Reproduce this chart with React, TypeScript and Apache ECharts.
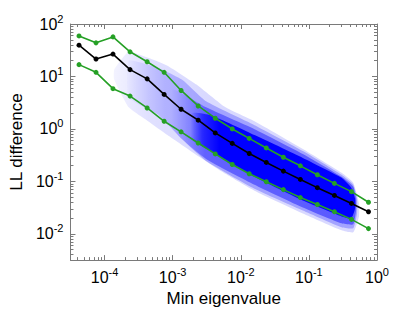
import React, { useEffect, useRef } from "react";
import * as echarts from "echarts";

// ---- data ----
const binCenters = [4.22e-5, 7.5e-5, 1.33e-4, 2.37e-4, 4.22e-4, 7.5e-4, 1.33e-3, 2.37e-3, 4.22e-3, 7.5e-3, 0.0133, 0.0237, 0.0422, 0.075, 0.133, 0.237, 0.422, 0.75];
const upperBand = [59.3, 43.7, 56.8, 29.5, 19.1, 12.0, 5.41, 2.74, 1.6, 1.0, 0.66, 0.434, 0.289, 0.198, 0.134, 0.0916, 0.0638, 0.0401];
const medianLine = [39.5, 21.5, 26.7, 13.5, 9.0, 4.55, 2.37, 1.47, 0.84, 0.53, 0.34, 0.23, 0.157, 0.109, 0.076, 0.054, 0.038, 0.0264];
const lowerBand = [16.8, 12.0, 5.85, 4.23, 2.51, 1.4, 0.88, 0.54, 0.334, 0.21, 0.14, 0.0986, 0.0697, 0.0492, 0.0363, 0.0264, 0.0189, 0.0126];

// axis exponents (log10)
const xTickExponents = [-4, -3, -2, -1, 0];
const yTickExponents = [-2, -1, 0, 1, 2];
const xRangeExp = [-4.5, 0];
const yRangeExp = [-2.5, 2];

// scatter cloud outline, log10 units (sparse -> dense)
const sparseX = [-3.858, -3.645, -3.361, -3.077, -2.651, -2.224, -1.798, -1.088, -0.52, -0.349, -0.264];
const sparseTop = [1.13, 1.471, 1.357, 1.206, 0.847, 0.412, 0.147, -0.382, -0.836, -1.025, -1.422];
const sparseBottom = [0.941, 0.412, 0.147, -0.117, -0.495, -0.854, -1.176, -1.611, -1.932, -1.97, -1.667];

const mediumX = [-3.645, -3.219, -2.864, -2.509, -1.798, -1.088, -0.52, -0.349, -0.293];
const mediumTop = [1.3, 1.168, 0.941, 0.526, 0.072, -0.42, -0.873, -1.062, -1.327];
const mediumBottom = [0.6, 0.28, -0.193, -0.609, -1.138, -1.554, -1.875, -1.894, -1.611];

const denseX = [-3.0, -2.509, -1.798, -1.088, -0.52, -0.349, -0.307];
const denseTop = [0.75, 0.412, -0.004, -0.476, -0.911, -1.1, -1.327];
const denseBottom = [0.0, -0.571, -1.062, -1.497, -1.8, -1.819, -1.554];

const coreX = [-2.72, -2.438, -1.798, -1.088, -0.52, -0.378, -0.321];
const coreTop = [0.3, 0.261, -0.117, -0.552, -0.93, -1.119, -1.327];
const coreBottom = [-0.2, -0.42, -0.911, -1.365, -1.667, -1.705, -1.516];

const FONT = "'Liberation Sans', Arial, Helvetica, sans-serif";
const GREEN = "#25a025";
const FRAME = "#7a7a7a";

function minorTicks(range: number[]) {
  const out: number[] = [];
  for (let n = Math.floor(range[0]); n <= Math.ceil(range[1]); n++) {
    for (let k = 2; k <= 9; k++) {
      const v = n + Math.log10(k);
      if (v > range[0] && v < range[1]) out.push(v);
    }
  }
  return out;
}

const labelRich = {
  b: { fontSize: 16, lineHeight: 16, fontFamily: FONT, color: "#000", verticalAlign: "bottom" },
  s: { fontSize: 11, lineHeight: 11, fontFamily: FONT, color: "#000", verticalAlign: "bottom", padding: [0, 0, 8, 0] },
};
const fmt = (v: number) => "{b|10}{s|" + Math.round(v) + "}";

export default function App() {
  const ref = useRef<HTMLDivElement>(null);
  useEffect(() => {
    if (!ref.current) return;
    const chart = echarts.init(ref.current, undefined, { renderer: "svg" });

    // fade: [x exponent, alpha] along each layer, blue ink
    const layers = [
      { x: sparseX, top: sparseTop, bottom: sparseBottom, fade: [[-3.86, 0.05], [-3.36, 0.12], [-2.5, 0.15], [-0.26, 0.15]] },
      { x: mediumX, top: mediumTop, bottom: mediumBottom, fade: [[-3.64, 0.02], [-3.1, 0.2], [-2.5, 0.25], [-0.29, 0.25]] },
      { x: denseX, top: denseTop, bottom: denseBottom, fade: [[-3.0, 0.0], [-2.5, 0.4], [-0.3, 0.45]] },
      { x: coreX, top: coreTop, bottom: coreBottom, fade: [[-2.72, 0.0], [-2.55, 0.6], [-2.3, 1], [-0.32, 1]] },
    ];

    const toLog = (ys: number[]) => ys.map((y, i) => [Math.log10(binCenters[i]), Math.log10(y)]);
    const xMinor = minorTicks(xRangeExp);
    const yMinor = minorTicks(yRangeExp);

    const baseX = { type: "value", min: xRangeExp[0], max: xRangeExp[1], splitLine: { show: false } };
    const baseY = { type: "value", min: yRangeExp[0], max: yRangeExp[1], splitLine: { show: false } };
    const lineStyle = { axisLine: { show: true, onZero: false, lineStyle: { color: FRAME, width: 1 } } };
    const noLine = { axisLine: { show: false, onZero: false } };
    const noLabel = { axisLabel: { show: false } };
    const tick = (vals: number[], len: number) => ({
      axisTick: { show: true, inside: true, length: len, customValues: vals, lineStyle: { color: FRAME, width: 1 } },
    });

    const option: any = {
      animation: false,
      grid: { left: 58, right: 38, top: 24, bottom: 49, containLabel: false },
      xAxis: [
        {
          ...baseX, position: "bottom", ...lineStyle, ...tick(xTickExponents, 5),
          axisLabel: { show: true, customValues: xTickExponents, formatter: fmt, rich: labelRich, margin: 9 },
          name: "Min eigenvalue", nameLocation: "middle", nameGap: 28,
          nameTextStyle: { fontSize: 17, fontFamily: FONT, color: "#000" },
        },
        { ...baseX, position: "bottom", ...noLine, ...tick(xMinor, 3), ...noLabel },
        { ...baseX, position: "top", ...lineStyle, ...tick(xTickExponents, 5), ...noLabel },
        { ...baseX, position: "top", ...noLine, ...tick(xMinor, 3), ...noLabel },
      ],
      yAxis: [
        {
          ...baseY, position: "left", ...lineStyle, ...tick(yTickExponents, 5),
          axisLabel: { show: true, customValues: yTickExponents, formatter: fmt, rich: labelRich, margin: 7 },
          name: "LL difference", nameLocation: "middle", nameGap: 37,
          nameTextStyle: { fontSize: 17, fontFamily: FONT, color: "#000" },
        },
        { ...baseY, position: "left", ...noLine, ...tick(yMinor, 3), ...noLabel },
        { ...baseY, position: "right", ...lineStyle, ...tick(yTickExponents, 5), ...noLabel },
        { ...baseY, position: "right", ...noLine, ...tick(yMinor, 3), ...noLabel },
      ],
      series: [
        {
          type: "custom",
          coordinateSystem: "cartesian2d",
          xAxisIndex: 0,
          yAxisIndex: 0,
          clip: true,
          silent: true,
          data: layers.map(() => [-2, 0]),
          renderItem: (params: any, api: any) => {
            const L = layers[params.dataIndex];
            const pts: number[][] = [];
            for (let i = 0; i < L.x.length; i++) pts.push(api.coord([L.x[i], L.top[i]]));
            for (let i = L.x.length - 1; i >= 0; i--) pts.push(api.coord([L.x[i], L.bottom[i]]));
            const xs = pts.map((p) => p[0]);
            const x0 = Math.min(...xs);
            const x1 = Math.max(...xs);
            const stops = L.fade.map(([xe, a]) => {
              const px = api.coord([xe, 0])[0];
              const off = Math.max(0, Math.min(1, (px - x0) / (x1 - x0)));
              return { offset: off, color: "rgba(0,0,255," + a + ")" };
            });
            const fill = new echarts.graphic.LinearGradient(0, 0, 1, 0, stops);
            return { type: "polygon", shape: { points: pts, smooth: 0.15 }, style: { fill, stroke: null } };
          },
          z: 1,
        },
        {
          type: "line", data: toLog(upperBand), xAxisIndex: 0, yAxisIndex: 0,
          symbol: "circle", symbolSize: 5, showSymbol: true,
          lineStyle: { color: GREEN, width: 1.6 }, itemStyle: { color: GREEN }, z: 3,
        },
        {
          type: "line", data: toLog(lowerBand), xAxisIndex: 0, yAxisIndex: 0,
          symbol: "circle", symbolSize: 5, showSymbol: true,
          lineStyle: { color: GREEN, width: 1.6 }, itemStyle: { color: GREEN }, z: 3,
        },
        {
          type: "line", data: toLog(medianLine), xAxisIndex: 0, yAxisIndex: 0,
          symbol: "circle", symbolSize: 5, showSymbol: true,
          lineStyle: { color: "#000", width: 1.6 }, itemStyle: { color: "#000" }, z: 4,
        },
      ],
    };
    chart.setOption(option);
    return () => chart.dispose();
  }, []);

  return <div ref={ref} style={{ position: "fixed", left: 0, top: 0, width: 415, height: 312, background: "#fff" }} />;
}
